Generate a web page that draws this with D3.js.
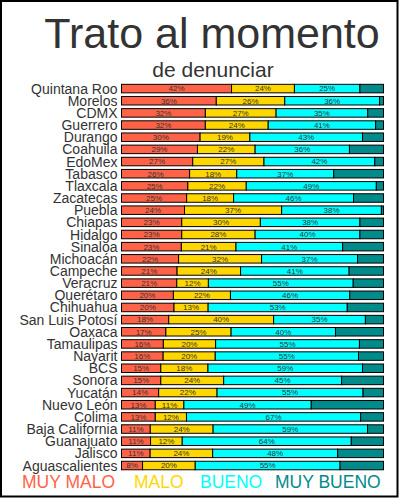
<!DOCTYPE html>
<html>
<head>
<meta charset="utf-8">
<script src="https://cdn.jsdelivr.net/npm/d3@7"></script>
<style>
  body { margin: 0; background: #fff; }
  svg { font-family: "Liberation Sans", Arial, sans-serif; }
  .state-label { font-size: 14px; fill: #333; text-anchor: end; }
  .pct-label { font-size: 8px; fill: #333; text-anchor: middle; }
  .legend-label { font-size: 17.5px; }
</style>
</head>
<body>
<svg id="chart" width="400" height="500"></svg>
<script>
// states, sorted by share of "muy malo"
const states = ["Quintana Roo", "Morelos", "CDMX", "Guerrero", "Durango", "Coahuila", "EdoMex", "Tabasco",
  "Tlaxcala", "Zacatecas", "Puebla", "Chiapas", "Hidalgo", "Sinaloa", "Michoacán", "Campeche",
  "Veracruz", "Querétaro", "Chihuahua", "San Luis Potosí", "Oaxaca", "Tamaulipas", "Nayarit", "BCS",
  "Sonora", "Yucatán", "Nuevo León", "Colima", "Baja California", "Guanajuato", "Jalisco", "Aguascalientes"];

// percentages per category
const muyMalo  = [42, 36, 32, 32, 30, 29, 27, 26, 25, 25, 24, 23, 23, 23, 22, 21, 21, 20, 20, 18, 17, 16, 16, 15, 15, 14, 13, 13, 11, 11, 11, 8];
const malo     = [24, 26, 27, 24, 19, 22, 27, 18, 22, 18, 37, 30, 28, 21, 32, 24, 12, 22, 13, 40, 25, 20, 20, 18, 24, 22, 11, 12, 24, 12, 24, 20];
const bueno    = [25, 36, 35, 41, 43, 36, 42, 37, 49, 46, 38, 38, 40, 41, 37, 41, 55, 46, 53, 35, 40, 55, 55, 59, 45, 55, 49, 67, 59, 64, 48, 55];
const muyBueno = [9, 1.5, 6, 3, 8, 13, 3.3, 19, 2.7, 11.5, 0.8, 9, 9, 15.7, 10, 13, 11.5, 13, 13.8, 6.9, 18.4, 9.2, 9.6, 8, 16, 7.7, 27.8, 8.8, 6.1, 12.2, 17.6, 16.5];

const keys = ["MUY MALO", "MALO", "BUENO", "MUY BUENO"];
const colors = ["#FF6347", "#FFD700", "#00FFFF", "#008B8B"];

const rows = states.map((s, i) => ({
  state: s,
  "MUY MALO": muyMalo[i],
  "MALO": malo[i],
  "BUENO": bueno[i],
  "MUY BUENO": muyBueno[i]
}));

const svg = d3.select("#chart");

// frame
svg.append("rect")
  .attr("x", 1).attr("y", 1)
  .attr("width", 396.5).attr("height", 495.5)
  .attr("fill", "none")
  .attr("stroke", "#000")
  .attr("stroke-width", 2);

// titles
svg.append("text")
  .attr("x", 212).attr("y", 48)
  .attr("text-anchor", "middle")
  .style("font-size", "43px")
  .style("fill", "#333")
  .text("Trato al momento");

svg.append("text")
  .attr("x", 213).attr("y", 77)
  .attr("text-anchor", "middle")
  .style("font-size", "21px")
  .style("fill", "#333")
  .text("de denunciar");

// scales
const x = d3.scaleLinear().domain([0, 1]).range([121.5, 383.5]);
const y = d3.scaleBand().domain(states).range([82.5, 471.6]).paddingInner(0.3).paddingOuter(0.15);
const color = d3.scaleOrdinal().domain(keys).range(colors);

const series = d3.stack().keys(keys).offset(d3.stackOffsetExpand)(rows);

// state labels
svg.append("g")
  .selectAll("text")
  .data(states)
  .join("text")
  .attr("class", "state-label")
  .attr("x", 117.5)
  .attr("y", d => y(d) + y.bandwidth() / 2)
  .attr("dy", "0.36em")
  .text(d => d);

// bars
const sg = svg.append("g")
  .selectAll("g.serie")
  .data(series)
  .join("g")
  .attr("class", "serie")
  .attr("fill", d => color(d.key));

sg.selectAll("rect")
  .data(d => d)
  .join("rect")
  .attr("x", d => x(d[0]))
  .attr("y", d => y(d.data.state))
  .attr("width", d => x(d[1]) - x(d[0]))
  .attr("height", y.bandwidth())
  .attr("stroke", "#000")
  .attr("stroke-width", 1);

// percentage labels (all but "muy bueno")
sg.filter(d => d.key !== "MUY BUENO")
  .selectAll("text")
  .data(d => d.map(v => ({ v, key: d.key })))
  .join("text")
  .attr("class", "pct-label")
  .attr("x", d => (x(d.v[0]) + x(d.v[1])) / 2)
  .attr("y", d => y(d.v.data.state) + y.bandwidth() / 2)
  .attr("dy", "0.36em")
  .text(d => d.v.data[d.key] + "%");

// legend
const legendX = [22, 134, 200, 275];
svg.append("g")
  .selectAll("text")
  .data(keys)
  .join("text")
  .attr("class", "legend-label")
  .attr("x", (d, i) => legendX[i])
  .attr("y", 487.5)
  .style("fill", d => color(d))
  .text(d => d);
</script>
</body>
</html>
